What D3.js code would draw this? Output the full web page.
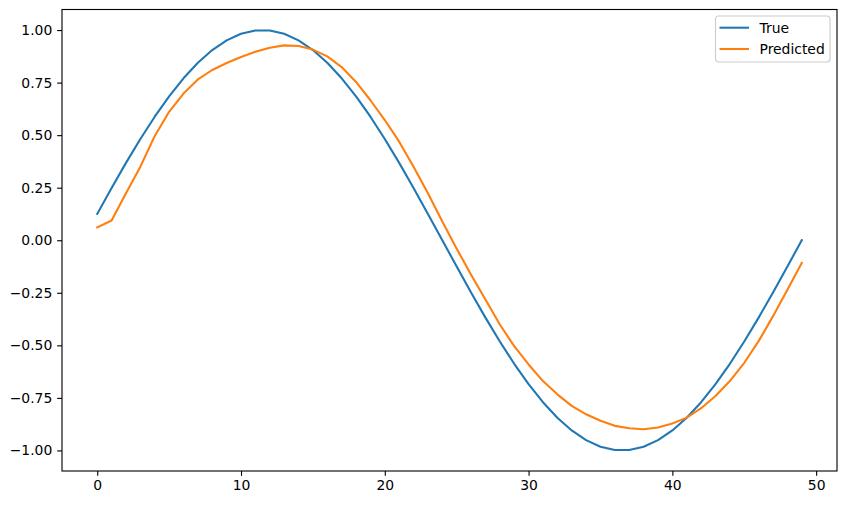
<!DOCTYPE html>
<html>
<head>
<meta charset="utf-8">
<script src="https://cdn.jsdelivr.net/npm/d3@7"></script>
<style>
  body { margin: 0; background: #fff; }
  svg { display: block; font-family: "DejaVu Sans", sans-serif; }
</style>
</head>
<body>
<svg id="viz" width="847" height="505"></svg>
<script>
// series values (x = 0..49)
let steps = d3.range(50);
let trueValues = [
  0.1253, 0.2487, 0.3681, 0.4818, 0.5878, 0.6845, 0.7705, 0.8443, 0.9048, 0.9511,
  0.9823, 0.9980, 0.9980, 0.9823, 0.9511, 0.9048, 0.8443, 0.7705, 0.6845, 0.5878,
  0.4818, 0.3681, 0.2487, 0.1253, 0.0, -0.1253, -0.2487, -0.3681, -0.4818, -0.5878,
  -0.6845, -0.7705, -0.8443, -0.9048, -0.9511, -0.9823, -0.9980, -0.9980, -0.9823, -0.9511,
  -0.9048, -0.8443, -0.7705, -0.6845, -0.5878, -0.4818, -0.3681, -0.2487, -0.1253, 0.0
];
let predictedValues = [
  0.061, 0.094, 0.224, 0.350, 0.496, 0.611, 0.698, 0.765, 0.810, 0.843,
  0.872, 0.897, 0.916, 0.927, 0.924, 0.907, 0.875, 0.824, 0.753, 0.666,
  0.572, 0.469, 0.350, 0.224, 0.089, -0.040, -0.164, -0.282, -0.401, -0.504,
  -0.591, -0.670, -0.733, -0.788, -0.828, -0.859, -0.883, -0.894, -0.899, -0.891,
  -0.872, -0.844, -0.799, -0.741, -0.670, -0.583, -0.480, -0.361, -0.235, -0.108
];
let seriesNames = ["True", "Predicted"];
let xTicks = [0, 10, 20, 30, 40, 50];
let yTicks = [-1.0, -0.75, -0.5, -0.25, 0.0, 0.25, 0.5, 0.75, 1.0];

// plot box (matplotlib-ish)
let plotLeft = 62, plotRight = 837, plotTop = 9.5, plotBottom = 471;
let colors = ["#1f77b4", "#ff7f0e"];
let fontSize = 13.9;

let svg = d3.select("#viz");

// 5% margins around the data like matplotlib
let xScale = d3.scaleLinear().domain([-2.45, 51.45]).range([plotLeft, plotRight]);
let yScale = d3.scaleLinear().domain([-1.0978, 1.0978]).range([plotBottom, plotTop]);

let line = d3.line()
  .x((d, i) => xScale(steps[i]))
  .y(d => yScale(d));

[trueValues, predictedValues].forEach((vals, k) => {
  svg.append("path")
    .datum(vals)
    .attr("d", line)
    .attr("fill", "none")
    .attr("stroke", colors[k])
    .attr("stroke-width", 2.08)
    .attr("stroke-linejoin", "round")
    .attr("stroke-linecap", "square");
});

// axes
let xAxis = svg.append("g")
  .attr("transform", `translate(0, ${plotBottom})`)
  .call(d3.axisBottom(xScale).tickValues(xTicks).tickFormat(d3.format("d"))
    .tickSizeInner(4.86).tickSizeOuter(0).tickPadding(4.4));

let yAxis = svg.append("g")
  .attr("transform", `translate(${plotLeft}, 0)`)
  .call(d3.axisLeft(yScale).tickValues(yTicks).tickFormat(d => d3.format(".2f")(d).replace("-", "\u2212"))
    .tickSizeInner(4.86).tickSizeOuter(0).tickPadding(4.86));

[xAxis, yAxis].forEach(g => {
  g.select(".domain").remove();
  g.selectAll(".tick line").attr("stroke", "#000").attr("stroke-width", 1.11);
  g.selectAll(".tick text")
    .attr("fill", "#000")
    .style("font-size", fontSize + "px")
    .style("font-family", "DejaVu Sans");
});

// frame
svg.append("rect")
  .attr("x", plotLeft).attr("y", plotTop)
  .attr("width", plotRight - plotLeft).attr("height", plotBottom - plotTop)
  .attr("fill", "none")
  .attr("stroke", "#000")
  .attr("stroke-width", 1.11);

// legend
let legend = svg.append("g").attr("transform", "translate(715.5, 16)");
legend.append("rect")
  .attr("width", 114.5).attr("height", 46)
  .attr("rx", 3).attr("ry", 3)
  .attr("fill", "#fff").attr("fill-opacity", 0.8)
  .attr("stroke", "#cccccc").attr("stroke-width", 1.11);

seriesNames.forEach((name, i) => {
  let y = 11.7 + i * 21.3;
  legend.append("line")
    .attr("x1", 4).attr("x2", 33.5)
    .attr("y1", y).attr("y2", y)
    .attr("stroke", colors[i]).attr("stroke-width", 2.08);
  legend.append("text")
    .attr("x", 44).attr("y", y)
    .attr("dy", "0.36em")
    .style("font-size", fontSize + "px")
    .text(name);
});
</script>
</body>
</html>
